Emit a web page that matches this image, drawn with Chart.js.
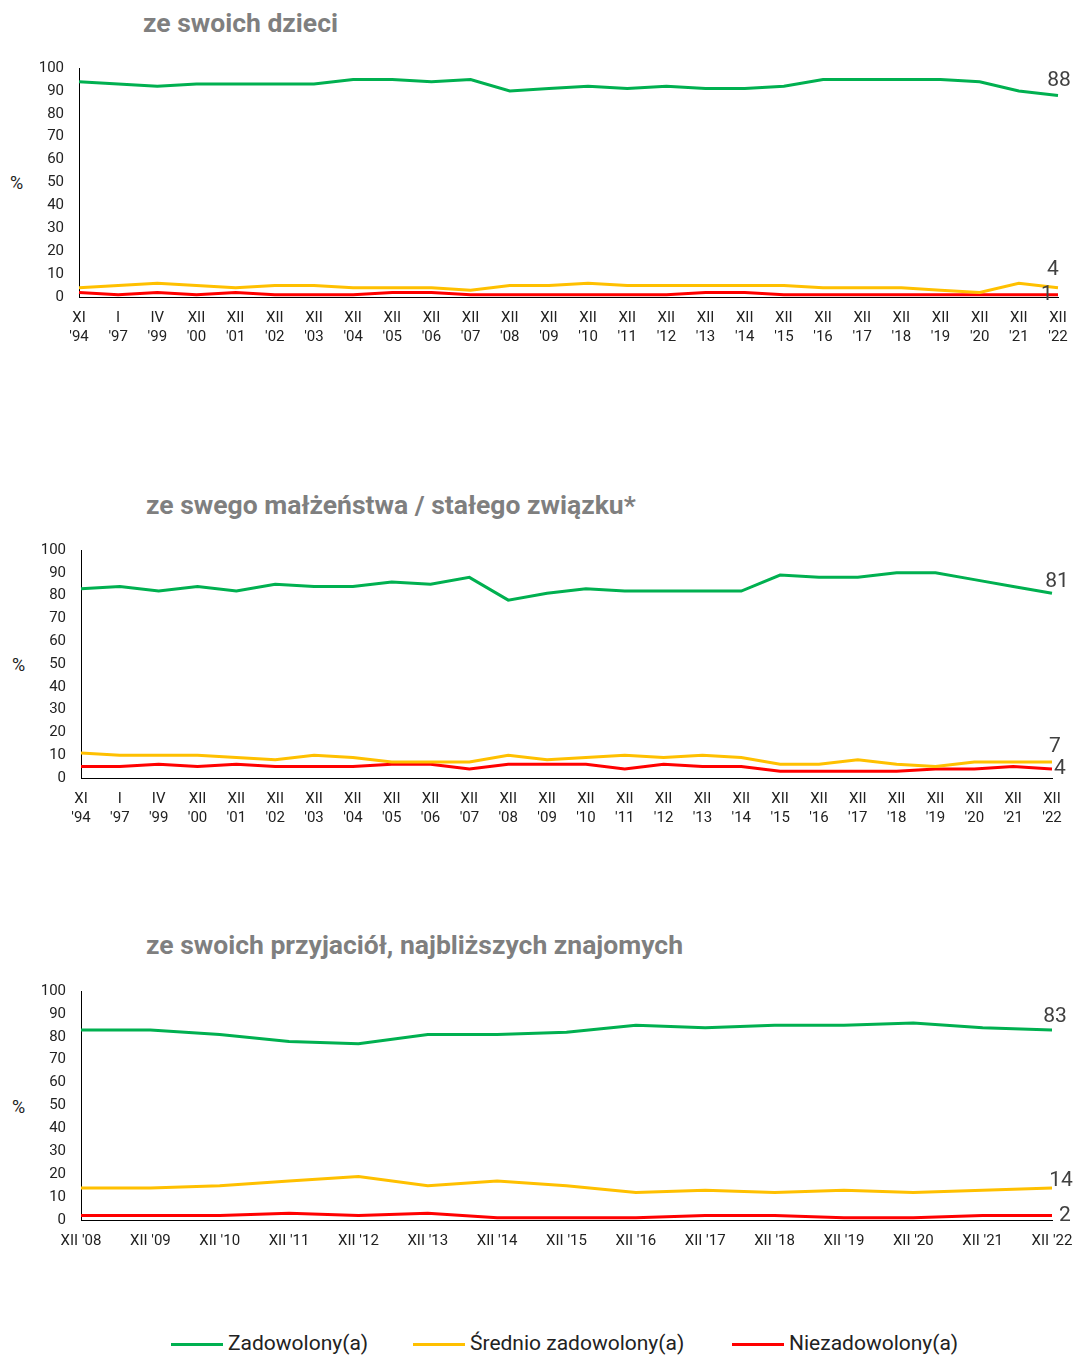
<!DOCTYPE html>
<html>
<head>
<meta charset="utf-8">
<script src="https://cdn.jsdelivr.net/npm/chart.js@4"></script>
<style>
  body { margin: 0; background: #fff; font-family: Roboto, sans-serif; }
  #page { position: relative; width: 1073px; height: 1357px; }
  .box { position: absolute; left: 0; width: 1073px; }
  .title { position: absolute; font-weight: bold; font-size: 26.5px; color: #7f7f7f; white-space: nowrap; line-height: 1; }
  .pct { position: absolute; font-size: 18px; color: #222; line-height: 1; }
  #legend { position: absolute; top: 1330px; left: 0; width: 1073px; font-size: 21px; color: #222; }
  .item { position: absolute; top: 0; line-height: 26px; white-space: nowrap; }
  .item span { display: inline-block; width: 52px; height: 3px; vertical-align: middle; margin-right: 5px; }
</style>
</head>
<body>
<div id="page">
  <div class="title" style="left:143px; top:10px;">ze swoich dzieci</div>
  <div class="title" style="left:146px; top:492px;">ze swego małżeństwa / stałego związku*</div>
  <div class="title" style="left:146px; top:932px;">ze swoich przyjaciół, najbliższych znajomych</div>
  <div class="pct" style="left:10px; top:174px;">%</div>
  <div class="pct" style="left:12px; top:656px;">%</div>
  <div class="pct" style="left:12px; top:1098px;">%</div>
  <div class="box" style="top:40px; height:320px;"><canvas id="chart1"></canvas></div>
  <div class="box" style="top:520px; height:320px;"><canvas id="chart2"></canvas></div>
  <div class="box" style="top:960px; height:300px;"><canvas id="chart3"></canvas></div>
  <div id="legend">
    <div class="item" style="left:171px;"><span style="background:#00B050"></span>Zadowolony(a)</div>
    <div class="item" style="left:413px;"><span style="background:#FFC000"></span>Średnio zadowolony(a)</div>
    <div class="item" style="left:732px;"><span style="background:#FF0000"></span>Niezadowolony(a)</div>
  </div>
</div>
<script>
// survey waves (two-line labels)
const longLabels = [
    ['XI', "'94"], ['I', "'97"], ['IV', "'99"], ['XII', "'00"], ['XII', "'01"], ['XII', "'02"],
    ['XII', "'03"], ['XII', "'04"], ['XII', "'05"], ['XII', "'06"], ['XII', "'07"], ['XII', "'08"],
    ['XII', "'09"], ['XII', "'10"], ['XII', "'11"], ['XII', "'12"], ['XII', "'13"], ['XII', "'14"],
    ['XII', "'15"], ['XII', "'16"], ['XII', "'17"], ['XII', "'18"], ['XII', "'19"], ['XII', "'20"],
    ['XII', "'21"], ['XII', "'22"]
];
const shortLabels = ["XII '08", "XII '09", "XII '10", "XII '11", "XII '12", "XII '13", "XII '14",
    "XII '15", "XII '16", "XII '17", "XII '18", "XII '19", "XII '20", "XII '21", "XII '22"];

// ze swoich dzieci
const kidsSatisfied = [94, 93, 92, 93, 93, 93, 93, 95, 95, 94, 95, 90, 91, 92, 91, 92, 91, 91, 92, 95, 95, 95, 95, 94, 90, 88];
const kidsMedium    = [4, 5, 6, 5, 4, 5, 5, 4, 4, 4, 3, 5, 5, 6, 5, 5, 5, 5, 5, 4, 4, 4, 3, 2, 6, 4];
const kidsUnhappy   = [2, 1, 2, 1, 2, 1, 1, 1, 2, 2, 1, 1, 1, 1, 1, 1, 2, 2, 1, 1, 1, 1, 1, 1, 1, 1];

// ze swego małżeństwa / stałego związku
const marriageSatisfied = [83, 84, 82, 84, 82, 85, 84, 84, 86, 85, 88, 78, 81, 83, 82, 82, 82, 82, 89, 88, 88, 90, 90, 87, 84, 81];
const marriageMedium    = [11, 10, 10, 10, 9, 8, 10, 9, 7, 7, 7, 10, 8, 9, 10, 9, 10, 9, 6, 6, 8, 6, 5, 7, 7, 7];
const marriageUnhappy   = [5, 5, 6, 5, 6, 5, 5, 5, 6, 6, 4, 6, 6, 6, 4, 6, 5, 5, 3, 3, 3, 3, 4, 4, 5, 4];

// ze swoich przyjaciół
const friendsSatisfied = [83, 83, 81, 78, 77, 81, 81, 82, 85, 84, 85, 85, 86, 84, 83];
const friendsMedium    = [14, 14, 15, 17, 19, 15, 17, 15, 12, 13, 12, 13, 12, 13, 14];
const friendsUnhappy   = [2, 2, 2, 3, 2, 3, 1, 1, 1, 2, 2, 1, 1, 2, 2];

const seriesColors = ['#00B050', '#FFC000', '#FF0000'];
const seriesNames = ['Zadowolony(a)', 'Średnio zadowolony(a)', 'Niezadowolony(a)'];

// label for the last value of each line
const endLabelPlugin = {
    id: 'endLabels',
    afterDatasetsDraw(chart, args, opts) {
        const ctx = chart.ctx;
        ctx.save();
        ctx.font = '21px Roboto';
        ctx.fillStyle = '#404040';
        ctx.textAlign = 'center';
        ctx.textBaseline = 'middle';
        chart.data.datasets.forEach(function(ds, i) {
            const meta = chart.getDatasetMeta(i);
            const pt = meta.data[meta.data.length - 1];
            const off = opts.offsets[i];
            ctx.fillText(ds.data[ds.data.length - 1], pt.x + off[0], pt.y + off[1]);
        });
        ctx.restore();
    }
};

function createChart(id, labels, series, box, offsets) {
    const datasets = series.map(function(values, i) {
        return {
            label: seriesNames[i],
            data: values,
            borderColor: seriesColors[i],
            backgroundColor: seriesColors[i],
            borderWidth: 3,
            pointRadius: 0,
            tension: 0,
            fill: false,
            order: i + 1
        };
    });

    new Chart(document.getElementById(id), {
        type: 'line',
        data: { labels: labels, datasets: datasets },
        plugins: [endLabelPlugin],
        options: {
            responsive: true,
            maintainAspectRatio: false,
            animation: false,
            layout: { padding: { top: box.top, right: box.right, left: 0, bottom: 0 } },
            plugins: {
                legend: { display: false },
                tooltip: { enabled: false },
                endLabels: { offsets: offsets }
            },
            scales: {
                x: {
                    grid: { display: false, drawTicks: false },
                    border: { display: true, color: '#000', width: 1 },
                    ticks: {
                        autoSkip: false, maxRotation: 0, minRotation: 0, padding: 12,
                        color: '#222', font: { family: 'Roboto', size: 15, lineHeight: 1.27 }
                    },
                    afterFit: function(scale) {
                        scale.height = box.xHeight;
                        scale.paddingLeft = 0;
                        scale.paddingRight = 0;
                    }
                },
                y: {
                    min: 0, max: 100,
                    grid: { display: false, drawTicks: false },
                    border: { display: true, color: '#000', width: 1 },
                    ticks: {
                        stepSize: 10, autoSkip: false, padding: 15,
                        color: '#222', font: { family: 'Roboto', size: 15 }
                    },
                    afterFit: function(scale) {
                        scale.width = box.yWidth;
                    }
                }
            }
        }
    });
}

createChart('chart1', longLabels, [kidsSatisfied, kidsMedium, kidsUnhappy],
    { top: 28, right: 15, xHeight: 63, yWidth: 79 },
    [[1, -15], [-5, -18], [-11, 0]]);
createChart('chart2', longLabels, [marriageSatisfied, marriageMedium, marriageUnhappy],
    { top: 30, right: 21, xHeight: 62, yWidth: 81 },
    [[5, -12], [3, -15], [8, 0]]);
createChart('chart3', shortLabels, [friendsSatisfied, friendsMedium, friendsUnhappy],
    { top: 31, right: 21, xHeight: 40, yWidth: 81 },
    [[3, -13], [9, -7], [13, 0]]);
</script>
</body>
</html>
